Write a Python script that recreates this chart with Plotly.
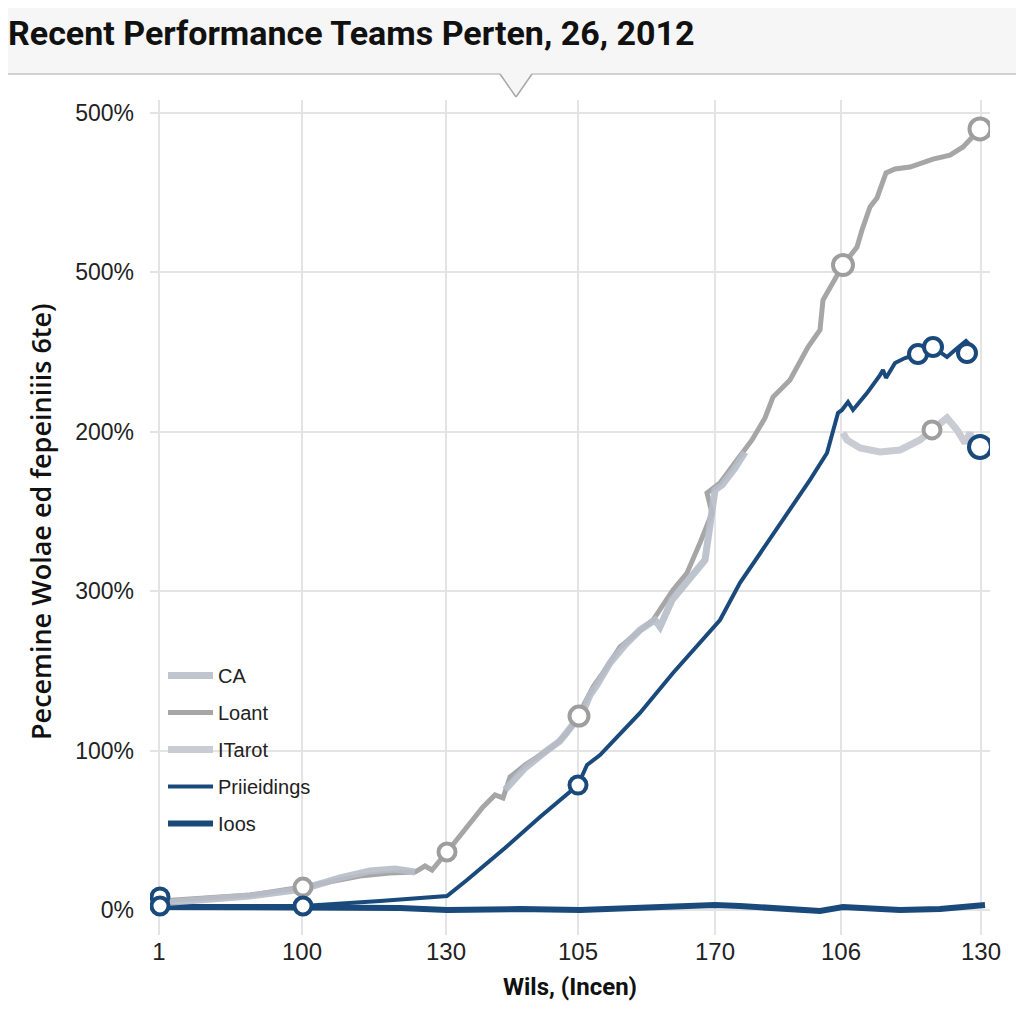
import plotly.graph_objects as go

# ---------------- data (x in axis position units, y in percent) ----------------
x_tick_pos = [0, 143, 287, 419, 556, 682, 822]
x_tick_text = ["1", "100", "130", "105", "170", "106", "130"]
y_tick_vals = [0, 100, 200, 300, 400, 500]
y_tick_text = ["0%", "100%", "300%", "200%", "500%", "500%"]

loant_x = [1, 41, 91, 144, 171, 201, 231, 256, 266, 273, 288, 306, 324, 336, 344, 351, 366, 378, 386, 398,
           408, 419, 428, 434, 448, 461, 478, 494, 514, 528, 541, 553, 548, 561, 578, 593, 606, 614, 631, 649,
           661, 664, 684, 698, 703, 711, 718, 727, 736, 751, 774, 791, 804, 821]
loant_y = [5.6, 7.5, 9.4, 14.4, 17.6, 21.3, 23.2, 23.8, 27.6, 25.1, 36.4, 50.2, 64.6, 72.2, 70.3, 83.4, 91.0,
           96.0, 99.1, 104.8, 111.0, 121.7, 133.6, 139.9, 152.5, 165.0, 173.8, 181.9, 200.8, 211.4, 230.3, 249.1,
           261.6, 267.9, 282.3, 294.9, 308.7, 321.8, 332.5, 353.2, 363.9, 382.7, 404.6, 415.9, 426.6, 441.0,
           446.7, 462.4, 464.9, 466.1, 471.1, 473.6, 478.7, 490.0]

ca_x = [1, 91, 144, 181, 211, 236, 256, None, 346, 366, 386, 401, 424, 431, 438, 451, 466, 481, 496, 501, 513,
        531, 546, 556, 563, 576, 586]
ca_y = [4.4, 8.8, 13.2, 20.1, 24.5, 25.7, 23.8, None, 75.3, 89.1, 99.1, 106.0, 124.2, 134.9, 141.2, 155.0, 166.3,
        175.7, 181.9, 177.6, 194.5, 208.3, 219.6, 263.5, 266.6, 277.3, 287.3]

itarot_x = [684, 688, 701, 721, 741, 761, 773, 788, 798, 806, 811, 818]
itarot_y = [299.3, 294.9, 289.9, 287.3, 288.6, 294.9, 301.2, 308.7, 301.2, 293.0, 299.3, 284.2]

prii_x = [1, 144, 221, 288, 308, 346, 381, 419, 428, 441, 458, 481, 514, 544, 561, 581, 616, 651, 668, 679, 683,
          689, 694, 708, 721, 724, 727, 736, 746, 759, 774, 788, 796, 807, 813]
prii_y = [2.5, 2.5, 5.6, 8.8, 18.8, 38.9, 58.3, 78.4, 91.0, 97.2, 108.5, 123.6, 148.7, 169.4, 181.9, 205.2, 237.2,
          269.8, 286.7, 311.8, 313.7, 318.7, 313.7, 324.3, 335.6, 338.8, 333.8, 343.2, 346.3, 348.8, 353.2,
          346.9, 351.3, 357.0, 353.2]

ioos_x = [1, 144, 241, 288, 361, 421, 491, 556, 581, 621, 661, 684, 741, 781, 826]
ioos_y = [1.9, 1.9, 1.3, 0.0, 0.6, 0.0, 1.3, 3.1, 2.5, 0.6, -0.6, 1.9, 0.0, 0.6, 3.1]

grey_mk_x = [144, 288, 420, 684, 821, 773]
grey_mk_y = [14.4, 36.4, 121.7, 404.6, 490.0, 301.2]
grey_mk_s = [17, 17, 19, 20, 21, 17]

blue_mk_x = [1, 1, 144, 419, 759, 774, 808, 821]
blue_mk_y = [8.2, 2.5, 2.5, 78.4, 348.8, 353.2, 349.4, 290.5]
blue_mk_s = [17, 17, 17, 17, 18, 18, 18, 22]

# ---------------- styles ----------------
C_CA = "#b8bec9"
C_LOANT = "#a6a6a6"
C_ITAROT = "#c9ccd3"
C_BLUE = "#1a4a7c"
FONT = "Liberation Sans, Arial, sans-serif"
BOLD = "Roboto, Liberation Sans, sans-serif"

fig = go.Figure()

fig.add_trace(go.Scatter(x=ioos_x, y=ioos_y, mode="lines", name="Ioos", legendrank=5, legendgroup="e",
                         line=dict(color=C_BLUE, width=6), hoverinfo="skip"))
fig.add_trace(go.Scatter(x=prii_x, y=prii_y, mode="lines", name="Priieidings", legendrank=4, legendgroup="d",
                         line=dict(color=C_BLUE, width=4), hoverinfo="skip"))
fig.add_trace(go.Scatter(x=loant_x, y=loant_y, mode="lines", name="Loant", legendrank=2, legendgroup="b",
                         line=dict(color=C_LOANT, width=5), hoverinfo="skip"))
fig.add_trace(go.Scatter(x=ca_x, y=ca_y, mode="lines", name="CA", legendrank=1, legendgroup="a",
                         connectgaps=False, opacity=0.9,
                         line=dict(color=C_CA, width=7), hoverinfo="skip"))
fig.add_trace(go.Scatter(x=itarot_x, y=itarot_y, mode="lines", name="ITarot", legendrank=3, legendgroup="c",
                         line=dict(color=C_ITAROT, width=7), hoverinfo="skip"))
fig.add_trace(go.Scatter(x=grey_mk_x, y=grey_mk_y, mode="markers", showlegend=False, hoverinfo="skip",
                         marker=dict(size=grey_mk_s, color="white", opacity=1,
                                     line=dict(color="#9e9e9e", width=4))))
fig.add_trace(go.Scatter(x=blue_mk_x, y=blue_mk_y, mode="markers", showlegend=False, hoverinfo="skip",
                         marker=dict(size=blue_mk_s, color="white", opacity=1,
                                     line=dict(color=C_BLUE, width=4))))

# page has an 8px body margin: figure pixel = page pixel - 8
OFF = 8
PL, PR, PT, PB = 150, 990, 100, 935  # plot area in page pixels
L, R, T, B = PL - OFF, 1024 - (PR - OFF), PT - OFF, 1024 - (PB - OFF)
PW, PH = PR - PL, PB - PT


def px(xp):
    return (xp - PL) / PW


def py(yp):
    return (PB - yp) / PH


band = "#f6f6f6"
shapes = [
    dict(type="rect", xref="paper", yref="paper", x0=px(0), x1=px(1040), y0=py(74), y1=py(-10),
         fillcolor=band, line=dict(width=0), layer="below"),
    dict(type="path", xref="paper", yref="paper",
         path=f"M{px(500)},{py(74)} L{px(516)},{py(97)} L{px(532)},{py(74)} Z",
         fillcolor=band, line=dict(width=0)),
    dict(type="line", xref="paper", yref="paper", x0=px(0), x1=px(500), y0=py(74), y1=py(74),
         line=dict(color="#c4c4c4", width=1.5)),
    dict(type="line", xref="paper", yref="paper", x0=px(532), x1=px(1040), y0=py(74), y1=py(74),
         line=dict(color="#c4c4c4", width=1.5)),
    dict(type="line", xref="paper", yref="paper", x0=px(500), x1=px(516), y0=py(74), y1=py(97),
         line=dict(color="#a8a8a8", width=1.5)),
    dict(type="line", xref="paper", yref="paper", x0=px(516), x1=px(532), y0=py(97), y1=py(74),
         line=dict(color="#a8a8a8", width=1.5)),
]

annotations = [
    dict(text="Pecemine Wolae ed fepeiniiis 6te)", textangle=-90, xref="paper", yref="paper",
         x=px(40), y=py(522), showarrow=False, xanchor="center", yanchor="middle",
         font=dict(family="Open Sans, sans-serif", size=27, color="#111111", weight=600)),
]

fig.update_layout(
    width=1024, height=1024,
    margin=dict(l=L, r=R, t=T, b=B),
    paper_bgcolor="white", plot_bgcolor="white",
    title=dict(text="<b>Recent Performance Teams Perten, 26, 2012</b>", xref="container", yref="container",
               x=0.0, xanchor="left", y=1 - (33 - OFF) / 1024, yanchor="middle",
               font=dict(family=BOLD, size=34, color="#111111")),
    xaxis=dict(range=[PL - 159, PR - 159], tickmode="array", tickvals=x_tick_pos, ticktext=x_tick_text,
               showgrid=True, gridcolor="#e4e4e4", gridwidth=1.5, zeroline=False, showline=False,
               tickfont=dict(family=FONT, size=24, color="#222222"),
               title=dict(text="<b>Wils, (Incen)</b>", standoff=14,
                          font=dict(family=BOLD, size=24, color="#111111"))),
    yaxis=dict(range=[(910 - PB) / 1.594, (910 - PT) / 1.594], tickmode="array", tickvals=y_tick_vals,
               ticktext=y_tick_text, showgrid=True, gridcolor="#e4e4e4", gridwidth=1.5, zeroline=False,
               showline=False, ticklabelstandoff=15,
               tickfont=dict(family=FONT, size=23, color="#222222")),
    legend=dict(x=px(163), y=py(656), xanchor="left", yanchor="top", bgcolor="rgba(0,0,0,0)",
                font=dict(family=FONT, size=20, color="#222222"), tracegroupgap=8, itemwidth=45,
                traceorder="grouped"),
    shapes=shapes,
    annotations=annotations,
    showlegend=True,
)

fig.write_html("out.html")
